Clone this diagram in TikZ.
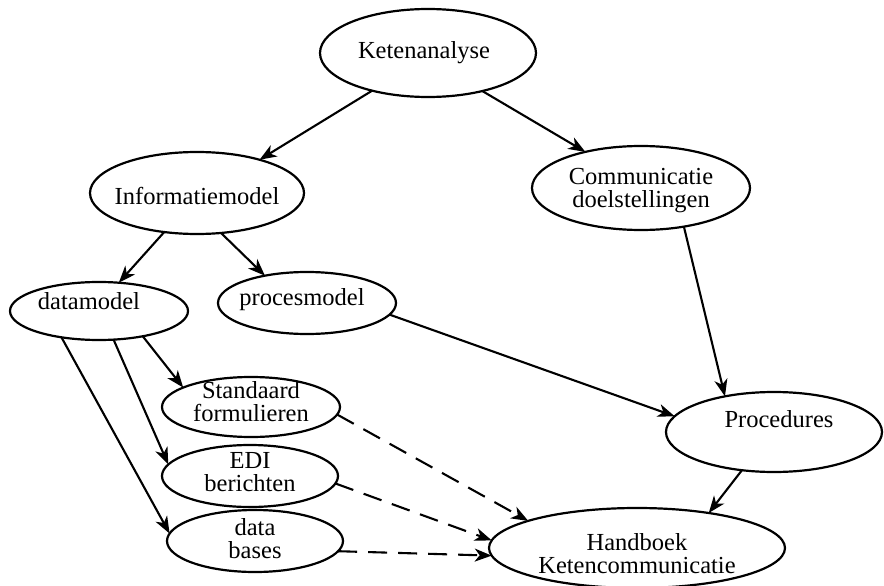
\documentclass[tikz,border=0pt]{standalone}
\usepackage{fontspec}
\setmainfont{Liberation Serif}
\usetikzlibrary{shapes.geometric,arrows.meta}
\begin{document}
\begin{tikzpicture}[x=1pt,y=-1pt,
  ell/.style 2 args={draw, ellipse, line width=2.2pt, minimum width=#1pt, minimum height=#2pt, inner sep=0pt, outer sep=0pt},
  every label/.style={font=\fontsize{24.5}{23}\selectfont, align=center, inner sep=0pt},
  arr/.style={line width=2.1pt, -{Stealth[length=17pt,width=13pt,inset=5pt]}},
  darr/.style={arr, dash pattern=on 19pt off 11pt}]
\useasboundingbox (0,0) rectangle (884,586);

\node[ell={216}{88}, label={[xshift=-4pt]center:Ketenanalyse}] (k) at (428,53) {};
\node[ell={214}{82}, label={[yshift=-3pt]center:Informatiemodel}] (im) at (197,193) {};
\node[ell={218}{84}, label={[yshift=-3pt]center:Communicatie\\doelstellingen}] (c) at (641,188) {};
\node[ell={178}{58}, label={[xshift=-10pt,yshift=10pt]center:datamodel}] (dm) at (99,311) {};
\node[ell={178}{62}, label={[xshift=-5pt,yshift=3pt]center:procesmodel}] (pm) at (307,303) {};
\node[ell={178}{60}, label={[yshift=5pt]center:Standaard\\formulieren}] (st) at (251,407) {};
\node[ell={176}{62}, label={[yshift=4pt]center:EDI\\berichten}] (edi) at (250,476) {};
\node[ell={176}{62}, label={[yshift=2pt]center:data\\bases}] (db) at (255,541) {};
\node[ell={216}{80}, label={[xshift=5pt,yshift=13pt]center:Procedures}] (pr) at (774,432) {};
\node[ell={296}{80}, label={[yshift=-6pt]center:Handboek\\Ketencommunicatie}] (hb) at (637,548) {};

\draw[arr] (k.214) -- (im.28);
\draw[arr] (k.325) -- (c.147);
\draw[arr] (im.230) -- (dm.55);
\draw[arr] (im.301) -- (pm.147);
\draw[arr] (dm.330) -- (st.164);
\draw[arr] (dm.297) -- (edi.172);
\draw[arr] (dm.215) -- (db.175);
\draw[arr] (pm.352) -- (pr.171);
\draw[arr] (c.318) -- (pr.144);
\draw[arr] (pr.230) -- (hb.26);
\draw[darr] (st.355) -- (hb.166);
\draw[darr] (edi.355) -- (hb.177);
\draw[darr] (db.353) -- (hb.183);
\end{tikzpicture}
\end{document}
